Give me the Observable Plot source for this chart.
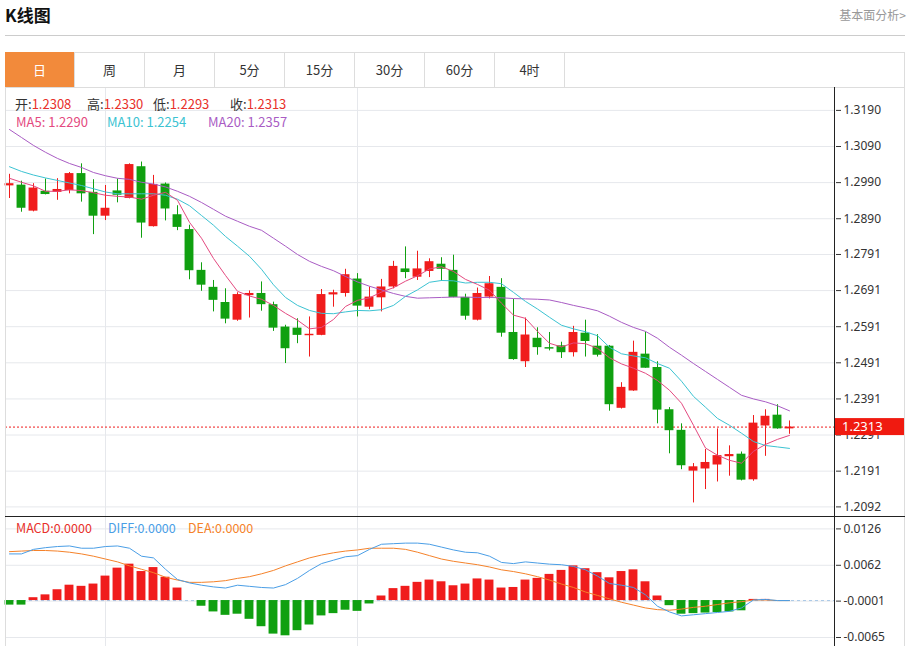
<!DOCTYPE html>
<html><head><meta charset="utf-8">
<script src="https://cdn.jsdelivr.net/npm/d3@7"></script>
<script src="https://cdn.jsdelivr.net/npm/@observablehq/plot@0.6"></script>
<style>
body{margin:0;background:#fff;font-family:"Noto Sans CJK SC","Noto Sans",sans-serif;}
#root{position:relative;width:909px;height:646px;overflow:hidden;background:#fff;}
.a{position:absolute;white-space:nowrap;}
.tab{position:absolute;top:52px;height:35px;width:70px;line-height:35px;text-align:center;font-size:13px;color:#333;border-right:1px solid #ddd;box-sizing:border-box;}
.lg{position:absolute;font-size:13px;line-height:16px;white-space:nowrap;}
</style></head><body><div id="root">
<div class="a" style="left:5px;top:4px;font-size:17px;font-weight:bold;color:#111;line-height:22px;">K线图</div>
<div class="a" style="right:3px;top:7px;font-size:12px;color:#999;line-height:16px;">基本面分析&gt;</div>
<div class="a" style="left:5px;top:35px;width:900px;height:1px;background:#ccc;"></div>
<div class="a" style="left:5px;top:52px;width:900px;height:35px;border:1px solid #ddd;border-bottom:none;box-sizing:border-box;"></div>
<div id="tabs"></div>
<div id="p1" class="a" style="left:0;top:87px;"></div>
<div id="p2" class="a" style="left:0;top:516px;"></div>
<div class="a" style="left:5px;top:87px;width:900px;height:1px;background:#ddd;"></div>
<div class="a" style="left:5px;top:87px;width:1px;height:559px;background:#ddd;"></div>
<div class="a" style="left:904px;top:87px;width:1px;height:559px;background:#ddd;"></div>
<div class="a" style="left:834px;top:87px;width:1px;height:559px;background:#222;"></div>
<div class="a" style="left:5px;top:516px;width:900px;height:1px;background:#222;"></div>
<div id="legend"></div>
</div>
<script>
// ---- data ----
const tabNames = ["日","周","月","5分","15分","30分","60分","4时"];
const open = [1.2981,1.2983,1.2911,1.2966,1.2963,1.2968,1.3015,1.2963,1.2897,1.2967,
1.2946,1.3034,1.2868,1.2986,1.2901,1.2860,1.2747,1.2700,1.2658,1.2609,
1.2677,1.2683,1.2652,1.2590,1.2587,1.2566,1.2567,1.2679,1.2683,1.2723,
1.2645,1.2671,1.2701,1.2751,1.2728,1.2744,1.2764,1.2747,1.2672,1.2609,
1.2673,1.2700,1.2575,1.2494,1.2559,1.2533,1.2538,1.2519,1.2573,1.2537,
1.2537,1.2365,1.2413,1.2515,1.2478,1.2361,1.2304,1.2191,1.2197,1.2208,
1.2231,1.2238,1.2167,1.2316,1.2346,1.2308];
const high = [1.3013,1.2994,1.2987,1.3000,1.3001,1.3018,1.3042,1.2998,1.2982,1.3000,
1.3042,1.3047,1.3010,1.2989,1.2926,1.2872,1.2768,1.2719,1.2696,1.2685,
1.2690,1.2715,1.2659,1.2595,1.2613,1.2618,1.2694,1.2692,1.2750,1.2738,
1.2701,1.2722,1.2772,1.2812,1.2800,1.2779,1.2782,1.2789,1.2681,1.2698,
1.2730,1.2724,1.2667,1.2615,1.2588,1.2575,1.2548,1.2592,1.2609,1.2569,
1.2539,1.2436,1.2551,1.2576,1.2494,1.2367,1.2322,1.2212,1.2251,1.2308,
1.2261,1.2244,1.2345,1.2361,1.2375,1.2330];
const low = [1.2946,1.2908,1.2909,1.2956,1.2941,1.2959,1.2936,1.2846,1.2885,1.2934,
1.2945,1.2836,1.2867,1.2884,1.2857,1.2721,1.2689,1.2632,1.2599,1.2606,
1.2615,1.2634,1.2578,1.2489,1.2544,1.2507,1.2566,1.2645,1.2673,1.2618,
1.2638,1.2632,1.2696,1.2724,1.2719,1.2727,1.2717,1.2671,1.2609,1.2607,
1.2668,1.2562,1.2498,1.2478,1.2512,1.2524,1.2503,1.2507,1.2507,1.2507,
1.2357,1.2363,1.2412,1.2476,1.2322,1.2239,1.2195,1.2103,1.2140,1.2161,
1.2177,1.2164,1.2163,1.2232,1.2307,1.2293];
const close = [1.2987,1.2919,1.2975,1.2957,1.2971,1.3015,1.2959,1.2897,1.2919,1.2955,
1.3040,1.2878,1.2985,1.2917,1.2866,1.2746,1.2706,1.2664,1.2612,1.2680,
1.2683,1.2652,1.2587,1.2530,1.2567,1.2570,1.2680,1.2685,1.2735,1.2648,
1.2673,1.2701,1.2758,1.2741,1.2751,1.2771,1.2750,1.2672,1.2620,1.2683,
1.2710,1.2573,1.2500,1.2568,1.2533,1.2529,1.2519,1.2575,1.2550,1.2512,
1.2375,1.2423,1.2520,1.2476,1.2360,1.2303,1.2206,1.2203,1.2215,1.2234,
1.2237,1.2166,1.2324,1.2343,1.2308,1.2313];
const ma5 = [1.3002,1.2991,1.2981,1.2966,1.2966,1.2970,1.2968,1.2962,1.2955,1.2952,
1.2950,1.2944,1.2955,1.2963,1.2941,1.2880,1.2836,1.2780,1.2733,1.2689,
1.2676,1.2667,1.2650,1.2628,1.2609,1.2585,1.2589,1.2611,1.2647,1.2664,
1.2671,1.2687,1.2699,1.2717,1.2732,1.2751,1.2757,1.2744,1.2722,1.2708,
1.2692,1.2656,1.2623,1.2614,1.2578,1.2545,1.2535,1.2546,1.2544,1.2531,
1.2505,1.2488,1.2476,1.2462,1.2442,1.2415,1.2379,1.2318,1.2255,1.2235,
1.2221,1.2213,1.2246,1.2265,1.2279,1.2290];
const ma10 = [1.3034,1.3021,1.3011,1.3003,1.2996,1.2989,1.2982,1.2973,1.2964,1.2959,
1.2959,1.2959,1.2959,1.2955,1.2944,1.2926,1.2899,1.2872,1.2841,1.2814,
1.2786,1.2750,1.2707,1.2672,1.2650,1.2636,1.2628,1.2627,1.2632,1.2636,
1.2635,1.2638,1.2650,1.2675,1.2693,1.2714,1.2719,1.2718,1.2712,1.2714,
1.2714,1.2710,1.2686,1.2661,1.2640,1.2617,1.2595,1.2585,1.2577,1.2566,
1.2534,1.2516,1.2510,1.2505,1.2489,1.2476,1.2440,1.2398,1.2368,1.2337,
1.2318,1.2296,1.2273,1.2262,1.2258,1.2254];
const ma20 = [1.3137,1.3115,1.3093,1.3074,1.3057,1.3043,1.3032,1.3018,1.3009,1.3002,
1.2999,1.2991,1.2986,1.2978,1.2966,1.2952,1.2935,1.2916,1.2897,1.2883,
1.2869,1.2858,1.2836,1.2814,1.2791,1.2772,1.2758,1.2746,1.2730,1.2715,
1.2703,1.2693,1.2683,1.2675,1.2670,1.2671,1.2672,1.2673,1.2673,1.2672,
1.2672,1.2671,1.2669,1.2668,1.2667,1.2665,1.2658,1.2650,1.2643,1.2635,
1.2620,1.2603,1.2589,1.2578,1.2559,1.2534,1.2512,1.2489,1.2467,1.2445,
1.2423,1.2401,1.2391,1.2383,1.2372,1.2358];
const macdHist = [-0.0008,-0.0008,0.0005,0.0010,0.0019,0.0027,0.0025,0.0029,0.0043,0.0057,
0.0064,0.0051,0.0058,0.0041,0.0022,0.0000,-0.0010,-0.0020,-0.0026,-0.0024,
-0.0033,-0.0046,-0.0059,-0.0062,-0.0053,-0.0043,-0.0027,-0.0023,-0.0017,-0.0019,
-0.0006,0.0008,0.0021,0.0025,0.0032,0.0036,0.0033,0.0026,0.0029,0.0038,
0.0036,0.0022,0.0023,0.0036,0.0039,0.0046,0.0053,0.0061,0.0056,0.0049,
0.0040,0.0051,0.0054,0.0033,0.0008,-0.0009,-0.0024,-0.0023,-0.0022,-0.0021,
-0.0020,-0.0018,0.0002,0.0002,0.0000,0.0000];
const diff = [0.0082,0.0082,0.0090,0.0093,0.0095,0.0096,0.0092,0.0092,0.0095,0.0096,
0.0092,0.0078,0.0075,0.0055,0.0037,0.0031,0.0027,0.0024,0.0022,0.0027,
0.0025,0.0023,0.0022,0.0028,0.0039,0.0053,0.0065,0.0071,0.0077,0.0079,
0.0090,0.0099,0.0100,0.0101,0.0101,0.0099,0.0094,0.0089,0.0085,0.0084,
0.0078,0.0067,0.0065,0.0068,0.0066,0.0064,0.0063,0.0060,0.0054,0.0043,
0.0030,0.0027,0.0023,0.0010,-0.0010,-0.0020,-0.0027,-0.0025,-0.0023,-0.0021,
-0.0019,-0.0013,0.0001,0.0002,0.0000,0.0000];
const dea = [0.0086,0.0087,0.0088,0.0088,0.0087,0.0085,0.0082,0.0078,0.0073,0.0068,
0.0061,0.0055,0.0049,0.0041,0.0036,0.0032,0.0032,0.0033,0.0035,0.0039,
0.0042,0.0047,0.0053,0.0061,0.0068,0.0075,0.0080,0.0084,0.0087,0.0089,
0.0092,0.0092,0.0092,0.0090,0.0085,0.0079,0.0073,0.0069,0.0066,0.0063,
0.0059,0.0054,0.0051,0.0047,0.0042,0.0036,0.0029,0.0023,0.0015,0.0009,
0.0003,-0.0003,-0.0008,-0.0013,-0.0016,-0.0017,-0.0015,-0.0012,-0.0010,-0.0007,
-0.0004,-0.0002,0.0001,0.0001,0.0000,0.0000];
const priceTicks = [1.3190,1.3090,1.2990,1.2890,1.2791,1.2691,1.2591,1.2491,1.2391,1.2291,1.2191,1.2092];
const macdTicks = [0.0126,0.0062,-0.0001,-0.0065];
const monthStarts = [8, 29];
const ohlcLegend = [["开:", 1.2308],["高:", 1.2330],["低:", 1.2293],["收:", 1.2313]];
const maLegend = [["MA5: ", 1.2290],["MA10: ", 1.2254],["MA20: ", 1.2357]];
const macdLegend = [["MACD:", 0.0000],["DIFF:", 0.0000],["DEA:", 0.0000]];

// ---- styles ----
const RED = "#f01c1c", GREEN = "#10a010";
const C5 = "#e44a80", C10 = "#3cc3d2", C20 = "#a95cc4";
const CDIFF = "#4a9ee6", CDEA = "#f5822a";
const GRID = "#e6e8ec";
const FONT = '"Noto Sans", "DejaVu Sans", sans-serif';

// tabs
const tabs = document.getElementById("tabs");
tabNames.forEach((t, k) => {
  const d = document.createElement("div");
  d.className = "tab";
  d.style.left = (5 + 70 * k) + "px";
  d.textContent = t;
  if (k === 0) { d.style.background = "#f28a3b"; d.style.color = "#fff"; }
  tabs.appendChild(d);
});

const N = close.length;
const idx = d3.range(N);
const candles = idx.map(i => ({i, o: open[i], h: high[i], l: low[i], c: close[i], col: close[i] >= open[i] ? RED : GREEN}));
const half = 0.37;
const xDomain = [-1/3, 68 + 5/6];
const lastClose = close[N - 1];
// the axis label hidden behind the price box is kept but drawn underneath it
const main = Plot.plot({
  width: 909, height: 429,
  marginLeft: 5, marginRight: 74, marginTop: 0, marginBottom: 0,
  x: {domain: xDomain, axis: null},
  y: {domain: [1.20654, 1.32534], axis: null},
  color: {type: "identity"},
  style: {fontFamily: FONT, fontSize: "12px", color: "#333", background: "transparent", overflow: "visible"},
  marks: [
    Plot.gridY(priceTicks, {stroke: GRID, strokeOpacity: 1}),
    Plot.gridX(monthStarts, {stroke: GRID, strokeOpacity: 1}),
    Plot.axisY(priceTicks, {anchor: "right", tickSize: 5, tickPadding: 3, tickFormat: d => d.toFixed(4), fontSize: 12}),
    Plot.ruleY([lastClose], {stroke: RED, strokeDasharray: "2,2", strokeWidth: 1}),
    Plot.ruleX(candles, {x: "i", y1: "l", y2: "h", stroke: "col", strokeWidth: 1}),
    Plot.rect(candles, {x1: d => d.i - half, x2: d => d.i + half, y1: d => Math.min(d.o, d.c), y2: d => Math.max(d.o, d.c), fill: "col"}),
    Plot.line(idx, {x: i => i, y: i => ma20[i], stroke: C20, strokeWidth: 1}),
    Plot.line(idx, {x: i => i, y: i => ma10[i], stroke: C10, strokeWidth: 1}),
    Plot.line(idx, {x: i => i, y: i => ma5[i], stroke: C5, strokeWidth: 1})
  ]
});
document.getElementById("p1").appendChild(main);

// current price label box, placed with the plot's own y scale
{
  const yPos = main.scale("y").apply(lastClose);
  const svg = d3.select(main);
  svg.append("rect").attr("x", 835).attr("y", yPos - 8.5).attr("width", 69).attr("height", 17).attr("fill", "#f01a10");
  svg.append("text").attr("x", 842).attr("y", yPos).attr("dy", "0.36em").attr("fill", "#fff")
    .attr("text-anchor", "start").attr("font-size", 13).attr("font-family", FONT).text(lastClose.toFixed(4));
}

const sub = Plot.plot({
  width: 909, height: 130,
  marginLeft: 5, marginRight: 74, marginTop: 0, marginBottom: 0,
  x: {domain: xDomain, axis: null},
  y: {domain: [-0.00808, 0.01478], axis: null},
  color: {type: "identity"},
  style: {fontFamily: FONT, fontSize: "12px", color: "#333", background: "transparent", overflow: "visible"},
  marks: [
    Plot.gridY(macdTicks, {stroke: GRID, strokeOpacity: 1}),
    Plot.gridX(monthStarts, {stroke: GRID, strokeOpacity: 1}),
    Plot.axisY(macdTicks, {anchor: "right", tickSize: 5, tickPadding: 3, tickFormat: d => d.toFixed(4), fontSize: 12}),
    Plot.ruleY([0], {stroke: "#a9c8e6", strokeDasharray: "3,3"}),
    Plot.rect(idx, {x1: i => i - half, x2: i => i + half, y1: 0, y2: i => macdHist[i], fill: i => macdHist[i] >= 0 ? RED : GREEN}),
    Plot.line(idx, {x: i => i, y: i => dea[i], stroke: CDEA, strokeWidth: 1}),
    Plot.line(idx, {x: i => i, y: i => diff[i], stroke: CDIFF, strokeWidth: 1})
  ]
});
document.getElementById("p2").appendChild(sub);

// legends
const lg = document.getElementById("legend");
function addText(x, y, html) {
  const d = document.createElement("div");
  d.className = "lg"; d.style.left = x + "px"; d.style.top = y + "px"; d.innerHTML = html;
  lg.appendChild(d);
}
const ohlcX = [15, 87, 153, 230];
ohlcLegend.forEach(([k, v], j) => addText(ohlcX[j], 96, `<span style="color:#333">${k}</span><span style="color:#e8302a">${v.toFixed(4)}</span>`));
const maX = [16, 107, 208], maC = [C5, C10, C20];
maLegend.forEach(([k, v], j) => addText(maX[j], 114, `<span style="color:${maC[j]}">${k}${v.toFixed(4)}</span>`));
const mX = [16, 108, 188], mC = ["#e8302a", CDIFF, CDEA];
macdLegend.forEach(([k, v], j) => addText(mX[j], 520, `<span style="color:${mC[j]};font-size:12.5px">${k}${v.toFixed(4)}</span>`));
</script>
</body></html>
